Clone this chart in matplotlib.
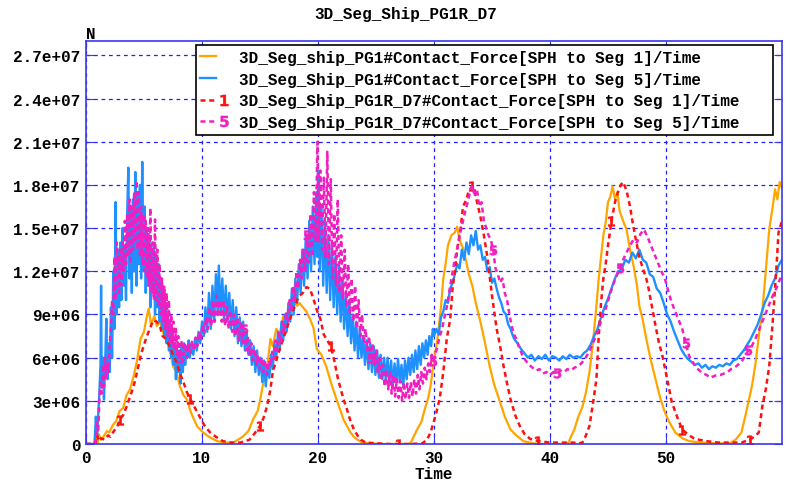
import numpy as np
import matplotlib
matplotlib.use('Agg')
import matplotlib.pyplot as plt
from matplotlib.lines import Line2D
from matplotlib.legend_handler import HandlerTuple
from matplotlib.ticker import FuncFormatter

plt.rcParams['font.family'] = ['Liberation Mono', 'DejaVu Sans Mono']
plt.rcParams['font.weight'] = 'bold'
plt.rcParams['font.size'] = 11.5

# values in units of 1e6 N
SCALE = 1e6

orange_t = [0, 0.8, 0.9, 1.0, 1.1, 1.3, 1.5, 1.8, 2.0, 2.3,
            2.6, 2.9, 3.2, 3.5, 3.8, 4.1, 4.4, 4.7, 5.0, 5.2,
            5.4, 5.6, 5.9, 6.1, 6.4, 6.7, 7.0, 7.3, 7.5, 7.8,
            8.1, 8.4, 8.7, 9.0, 9.2, 9.6, 10.1, 10.6, 11.3, 12.0,
            12.7, 13.1, 13.5, 14.0, 14.4, 14.8, 15.0, 15.3, 15.6, 15.9,
            16.1, 16.4, 16.7, 17.0, 17.3, 17.6, 17.9, 18.2, 18.4, 18.8,
            19.0, 19.3, 19.6, 19.9, 20.3, 20.7, 21.0, 21.3, 21.6, 21.9,
            22.2, 22.5, 22.8, 23.1, 23.4, 23.8, 24.5, 25.5, 27.0, 27.8,
            28.0, 28.3, 28.6, 28.9, 29.2, 29.5, 29.7, 30.0, 30.3, 30.6,
            30.8, 31.0, 31.2, 31.5, 31.8, 32.0, 32.2, 32.5, 32.8, 33.0,
            33.3, 33.6, 34.0, 34.4, 34.8, 35.2, 35.7, 36.1, 36.6, 37.1,
            37.7, 38.5, 39.5, 41.0, 41.6, 41.8, 42.1, 42.4, 42.8, 43.1,
            43.4, 43.7, 44.0, 44.2, 44.4, 44.6, 44.8, 45.0, 45.2, 45.4,
            45.6, 45.8, 46.0, 46.3, 46.6, 46.9, 47.2, 47.5, 47.7, 48.0,
            48.3, 48.7, 49.1, 49.5, 49.9, 50.3, 50.8, 51.4, 52.0, 53.0,
            54.0, 55.5, 56.0, 56.3, 56.5, 56.8, 57.1, 57.4, 57.7, 58.0,
            58.3, 58.6, 58.9, 59.2, 59.4, 59.6, 59.8, 60.0]
orange_v = [0, 0, 0.6, 0.1, 0.7, 0.3, 0.5, 0.9, 0.8, 1.3,
            1.6, 2.3, 2.5, 3.4, 3.8, 4.7, 5.8, 7.3, 7.8, 8.7,
            9.4, 8.3, 8.9, 8.2, 8.5, 7.6, 7.3, 6.2, 5.4, 5.0,
            4.0, 3.4, 3.1, 2.3, 1.9, 1.2, 0.8, 0.5, 0.2, 0.1,
            0.1, 0.3, 0.5, 0.9, 1.7, 2.3, 3.0, 4.3, 5.2, 7.3,
            6.8, 8.0, 7.6, 8.9, 8.6, 9.4, 9.8, 9.6, 9.8, 9.4,
            9.2, 8.7, 8.1, 6.6, 6.2, 5.4, 4.6, 3.8, 3.1, 2.4,
            1.7, 1.25, 0.8, 0.5, 0.3, 0.1, 0.05, 0, 0, 0,
            0.1, 0.6, 1.1, 1.5, 2.4, 3.2, 4.0, 5.8, 7.3, 9.5,
            11.5, 12.5, 13.8, 14.5, 14.7, 15.1, 14.2, 13.6, 12.6, 11.8,
            11.0, 9.8, 8.5, 7.0, 5.4, 4.1, 2.9, 1.9, 1.0, 0.6,
            0.2, 0.05, 0, 0, 0.1, 0.5, 1.0, 1.8, 2.6, 3.6,
            5.0, 7.0, 9.6, 11.5, 13.0, 14.5, 15.4, 16.8, 17.2, 17.9,
            17.0, 17.5, 16.2, 15.5, 14.9, 13.5, 12.4, 11.0, 9.6, 8.6,
            7.3, 5.8, 4.5, 3.2, 2.2, 1.5, 0.8, 0.4, 0.2, 0.1,
            0.05, 0.05, 0.3, 0.6, 0.8, 1.8, 2.9, 4.0, 5.5, 7.5,
            9.2, 12.0, 14.9, 16.5, 17.7, 17.0, 18.2, 17.8]

blue_t = [0, 0.7, 0.75, 0.85, 0.95, 1.05, 1.15, 1.25, 1.3, 1.35,
          1.45, 1.55, 1.65, 1.75, 1.85, 1.95, 2.05, 2.15, 2.25, 2.35,
          2.45, 2.55, 2.65, 2.75, 2.85, 2.95, 3.05, 3.15, 3.25, 3.35,
          3.45, 3.55, 3.65, 3.75, 3.85, 3.95, 4.05, 4.15, 4.25, 4.35,
          4.45, 4.55, 4.65, 4.75, 4.85, 4.95, 5.05, 5.15, 5.25, 5.35,
          5.45, 5.55, 5.65, 5.75, 5.85, 5.95, 6.05, 6.15, 6.25, 6.35,
          6.45, 6.55, 6.65, 6.75, 6.85, 6.95, 7.05, 7.15, 7.25, 7.35,
          7.45, 7.55, 7.65, 7.75, 7.85, 7.95, 8.05, 8.15, 8.25, 8.35,
          8.45, 8.55, 8.65, 8.75, 8.85, 8.95, 9.1, 9.25, 9.4, 9.55,
          9.7, 9.85, 10.0, 10.15, 10.3, 10.45, 10.6, 10.75, 10.9, 11.05,
          11.2, 11.35, 11.45, 11.6, 11.75, 11.9, 12.05, 12.2, 12.35, 12.5,
          12.65, 12.8, 12.95, 13.1, 13.25, 13.4, 13.55, 13.7, 13.85, 14.0,
          14.15, 14.3, 14.45, 14.6, 14.75, 14.9, 15.05, 15.2, 15.35, 15.5,
          15.65, 15.8, 15.95, 16.1, 16.25, 16.4, 16.55, 16.7, 16.85, 17.0,
          17.15, 17.3, 17.45, 17.6, 17.75, 17.9, 18.05, 18.2, 18.35, 18.5,
          18.65, 18.8, 18.95, 19.1, 19.25, 19.4, 19.55, 19.7, 19.85, 19.95,
          20.05, 20.15, 20.3, 20.45, 20.6, 20.75, 20.9, 21.05, 21.2, 21.35,
          21.5, 21.65, 21.8, 21.95, 22.1, 22.25, 22.4, 22.55, 22.7, 22.85,
          23.0, 23.15, 23.3, 23.45, 23.6, 23.75, 23.9, 24.05, 24.2, 24.35,
          24.5, 24.65, 24.8, 24.95, 25.1, 25.25, 25.4, 25.55, 25.7, 25.85,
          26.0, 26.15, 26.3, 26.45, 26.6, 26.75, 26.9, 27.05, 27.2, 27.35,
          27.5, 27.65, 27.8, 27.95, 28.1, 28.25, 28.4, 28.55, 28.7, 28.85,
          29.0, 29.15, 29.3, 29.45, 29.6, 29.75, 29.9, 30.0, 30.2, 30.4,
          30.6, 30.8, 31.0, 31.2, 31.4, 31.6, 31.8, 32.0, 32.2, 32.4,
          32.6, 32.8, 33.0, 33.2, 33.4, 33.6, 33.8, 34.0, 34.2, 34.4,
          34.6, 34.8, 35.0, 35.2, 35.4, 35.6, 35.8, 36.0, 36.2, 36.4,
          36.6, 36.8, 37.0, 37.2, 37.5, 37.8, 38.1, 38.4, 38.7, 39.0,
          39.3, 39.6, 39.9, 40.2, 40.5, 40.8, 41.1, 41.4, 41.7, 42.0,
          42.3, 42.6, 42.9, 43.2, 43.5, 43.8, 44.1, 44.4, 44.7, 45.0,
          45.3, 45.6, 45.9, 46.2, 46.5, 46.8, 47.1, 47.4, 47.7, 48.0,
          48.3, 48.6, 48.9, 49.2, 49.5, 49.8, 50.1, 50.4, 50.7, 51.0,
          51.3, 51.6, 51.9, 52.2, 52.5, 52.8, 53.1, 53.4, 53.7, 54.0,
          54.3, 54.6, 54.9, 55.2, 55.5, 55.8, 56.1, 56.4, 56.7, 57.0,
          57.3, 57.6, 57.9, 58.2, 58.5, 58.8, 59.1, 59.4, 59.7, 60.0]
blue_v = [0, 0, 0.3, 1.9, 0.5, 2.0, 3.5, 5.5, 11.0, 4.0,
          6.0, 3.1, 5.5, 8.7, 4.5, 7.0, 5.0, 9.5, 6.0, 12.0,
          8.0, 16.8, 9.0, 13.5, 9.5, 14.0, 10.0, 15.0, 11.0, 13.5,
          10.0, 16.0, 19.2, 11.5, 16.5, 10.5, 17.0, 12.0, 18.9, 11.0,
          17.5, 12.5, 18.0, 11.5, 19.6, 12.0, 16.5, 10.5, 15.0, 11.0,
          14.5, 9.5, 13.5, 10.5, 14.0, 9.0, 13.0, 9.5, 12.5, 8.5,
          11.5, 8.0, 10.5, 7.5, 9.5, 7.0, 9.0, 6.5, 8.5, 6.0,
          8.0, 5.5, 7.0, 4.5, 6.5, 5.0, 6.5, 4.2, 6.8, 5.0,
          7.0, 5.5, 6.8, 6.0, 7.2, 6.0, 7.0, 6.2, 7.3, 6.5,
          7.8, 7.0, 8.5, 7.5, 9.5, 7.8, 10.5, 8.0, 11.0, 8.5,
          11.8, 9.0, 12.4, 9.0, 11.5, 8.5, 11.0, 8.5, 10.5, 8.0,
          10.0, 7.5, 9.5, 7.0, 8.8, 6.8, 8.5, 6.5, 7.8, 6.2,
          7.2, 5.5, 6.8, 5.0, 6.5, 4.8, 6.0, 4.3, 5.8, 4.0,
          5.5, 4.6, 6.2, 5.2, 7.0, 6.0, 7.8, 6.5, 8.5, 7.2,
          9.0, 7.8, 9.8, 8.5, 10.8, 9.0, 11.5, 9.8, 12.5, 10.5,
          13.5, 11.0, 14.5, 11.5, 15.5, 12.0, 16.5, 12.5, 17.5, 13.0,
          19.0, 12.0, 16.5, 11.0, 15.5, 10.5, 14.5, 10.0, 14.0, 9.5,
          13.0, 9.0, 12.5, 8.5, 11.5, 8.0, 10.5, 7.5, 10.0, 7.0,
          9.0, 6.5, 8.5, 6.0, 8.0, 6.0, 7.5, 5.5, 7.2, 5.2,
          7.0, 5.0, 6.8, 4.8, 6.5, 4.6, 6.2, 4.5, 6.0, 4.3,
          6.0, 4.2, 5.8, 4.0, 5.6, 4.2, 5.9, 4.3, 5.5, 4.0,
          5.8, 4.5, 6.0, 4.8, 6.2, 5.0, 6.5, 5.2, 6.8, 5.5,
          7.0, 6.0, 7.2, 6.2, 7.5, 6.8, 8.0, 7.5, 8.0, 7.6,
          8.8, 9.2, 10.0, 9.8, 10.8, 11.2, 11.8, 12.5, 12.2, 13.5,
          12.8, 14.0, 13.2, 14.5, 13.8, 14.8, 13.5, 13.8, 12.8, 13.0,
          12.0, 12.3, 11.2, 11.5, 10.8, 10.2, 9.8, 9.2, 9.0, 8.3,
          8.0, 7.5, 7.2, 7.0, 6.6, 6.3, 6.0, 6.2, 5.8, 6.1,
          5.9, 6.2, 5.8, 6.1, 6.0, 5.8, 6.1, 5.9, 6.2, 6.0,
          6.1, 6.0, 6.3, 6.5, 6.9, 7.5, 8.0, 8.8, 9.5, 10.1,
          10.8, 11.5, 12.0, 12.2, 12.8, 12.6, 13.3, 12.9, 13.5, 12.8,
          12.6, 11.8, 11.6, 10.8, 10.5, 9.8, 9.0, 8.5, 7.8, 7.2,
          6.6, 6.2, 5.9, 5.7, 5.5, 5.6, 5.3, 5.5, 5.2, 5.4,
          5.3, 5.5, 5.4, 5.6, 5.5, 5.8, 5.9, 6.2, 6.5, 6.9,
          7.3, 7.8, 8.3, 9.0, 9.8, 10.3, 11.0, 11.5, 12.4, 12.8]

red_t = [0, 0.8, 0.95, 1.1, 1.3, 1.6, 1.9, 2.1, 2.4, 2.7,
         2.9, 3.2, 3.5, 3.8, 4.1, 4.4, 4.7, 5.0, 5.3, 5.5,
         5.8, 6.1, 6.4, 6.6, 6.9, 7.2, 7.5, 7.8, 8.1, 8.4,
         8.7, 9.0, 9.4, 9.8, 10.2, 10.7, 11.2, 11.8, 12.5, 13.3,
         13.7, 14.1, 14.5, 15.0, 15.3, 15.6, 15.9, 16.1, 16.4, 16.7,
         17.0, 17.3, 17.6, 17.9, 18.2, 18.4, 18.7, 19.0, 19.3, 19.6,
         19.9, 20.2, 20.5, 20.8, 21.1, 21.4, 21.7, 21.9, 22.2, 22.5,
         22.8, 23.1, 23.4, 23.7, 24.1, 25.0, 26.0, 27.0, 28.0, 29.0,
         29.4, 29.7, 30.0, 30.3, 30.5, 30.8, 31.1, 31.4, 31.6, 31.8,
         32.0, 32.3, 32.5, 32.8, 33.0, 33.3, 33.6, 34.0, 34.3, 34.6,
         35.0, 35.4, 35.7, 36.0, 36.3, 36.6, 37.0, 37.4, 37.8, 38.3,
         39.0, 40.0, 41.0, 42.0, 42.5, 42.8, 43.1, 43.4, 43.7, 44.0,
         44.2, 44.4, 44.6, 44.8, 45.0, 45.3, 45.6, 45.9, 46.1, 46.3,
         46.6, 46.9, 47.1, 47.4, 47.7, 48.0, 48.3, 48.5, 48.8, 49.1,
         49.4, 49.7, 50.1, 50.5, 51.0, 51.4, 52.0, 52.5, 53.5, 54.5,
         55.5, 56.5, 57.2, 57.6, 58.0, 58.3, 58.6, 58.9, 59.2, 59.5,
         59.7, 60.0]
red_v = [0, 0, 0.6, 0.2, 0.4, 0.3, 0.6, 0.5, 0.9, 1.2,
         1.7, 2.0, 2.6, 3.3, 4.0, 5.0, 6.1, 6.9, 7.6, 8.0,
         8.6, 8.5, 8.1, 7.5, 7.3, 6.8, 6.2, 5.7, 4.9, 4.3,
         3.6, 3.1, 2.5, 1.9, 1.3, 0.8, 0.5, 0.2, 0.1, 0.1,
         0.2, 0.3, 0.7, 1.25, 1.8, 2.6, 3.8, 5.0, 5.8, 6.6,
         7.3, 8.0, 8.7, 9.4, 10.0, 10.3, 10.5, 10.9, 10.8, 10.1,
         9.3, 8.7, 7.6, 7.2, 6.8, 5.8, 4.6, 4.0, 3.1, 2.4,
         1.6, 1.0, 0.6, 0.3, 0.1, 0.05, 0, 0, 0, 0.05,
         0.3, 0.8, 1.6, 2.5, 3.2, 5.0, 7.3, 8.7, 10.8, 12.0,
         13.5, 15.0, 16.5, 17.0, 17.6, 17.9, 17.2, 15.8, 14.5, 13.0,
         10.3, 8.0, 6.8, 5.4, 4.2, 3.1, 2.0, 1.25, 0.7, 0.35,
         0.2, 0.1, 0.1, 0.1, 0.05, 0.1, 0.6, 1.25, 2.8, 4.5,
         7.5, 9.8, 11.5, 12.5, 13.8, 15.5, 16.8, 17.6, 18.0, 18.2,
         17.6, 16.5, 15.5, 14.2, 13.0, 12.2, 11.5, 10.8, 9.5, 8.2,
         7.0, 6.1, 4.5, 2.9, 1.8, 1.0, 0.6, 0.35, 0.2, 0.1,
         0.1, 0.1, 0.3, 0.5, 0.8, 2.6, 3.8, 5.4, 8.5, 12.0,
         14.7, 15.5]

magenta_t = [0, 0.8, 0.85, 0.95, 1.05, 1.15, 1.25, 1.35, 1.45, 1.55,
             1.65, 1.75, 1.85, 1.95, 2.05, 2.15, 2.25, 2.35, 2.45, 2.55,
             2.65, 2.75, 2.85, 2.95, 3.05, 3.15, 3.25, 3.35, 3.45, 3.55,
             3.65, 3.75, 3.85, 3.95, 4.05, 4.15, 4.25, 4.35, 4.45, 4.55,
             4.65, 4.75, 4.85, 4.95, 5.05, 5.15, 5.25, 5.35, 5.45, 5.55,
             5.65, 5.75, 5.85, 5.95, 6.05, 6.15, 6.25, 6.35, 6.45, 6.55,
             6.65, 6.75, 6.85, 6.95, 7.05, 7.15, 7.25, 7.35, 7.45, 7.55,
             7.65, 7.75, 7.85, 7.95, 8.1, 8.25, 8.4, 8.55, 8.7, 8.85,
             9.0, 9.15, 9.3, 9.45, 9.6, 9.75, 9.9, 10.05, 10.2, 10.35,
             10.5, 10.65, 10.8, 10.95, 11.1, 11.25, 11.4, 11.55, 11.7, 11.85,
             12.0, 12.15, 12.3, 12.45, 12.6, 12.75, 12.9, 13.05, 13.2, 13.35,
             13.5, 13.65, 13.8, 13.95, 14.1, 14.25, 14.4, 14.55, 14.7, 14.85,
             15.0, 15.15, 15.3, 15.45, 15.6, 15.75, 15.9, 16.05, 16.2, 16.35,
             16.5, 16.65, 16.8, 16.95, 17.1, 17.25, 17.4, 17.55, 17.7, 17.85,
             18.0, 18.15, 18.3, 18.45, 18.6, 18.75, 18.9, 19.05, 19.2, 19.35,
             19.5, 19.65, 19.8, 19.95, 20.05, 20.2, 20.35, 20.5, 20.65, 20.8,
             20.95, 21.1, 21.25, 21.4, 21.55, 21.7, 21.85, 22.0, 22.15, 22.3,
             22.45, 22.6, 22.75, 22.9, 23.05, 23.2, 23.35, 23.5, 23.65, 23.8,
             23.95, 24.1, 24.25, 24.4, 24.55, 24.7, 24.85, 25.0, 25.15, 25.3,
             25.45, 25.6, 25.75, 25.9, 26.05, 26.2, 26.35, 26.5, 26.65, 26.8,
             26.95, 27.1, 27.25, 27.4, 27.55, 27.7, 27.85, 28.0, 28.15, 28.3,
             28.45, 28.6, 28.75, 28.9, 29.05, 29.2, 29.35, 29.5, 29.65, 29.8,
             29.95, 30.1, 30.3, 30.5, 30.7, 30.9, 31.1, 31.3, 31.5, 31.7,
             31.9, 32.1, 32.3, 32.5, 32.7, 32.9, 33.1, 33.3, 33.5, 33.7,
             33.9, 34.1, 34.3, 34.5, 34.7, 34.9, 35.1, 35.3, 35.5, 35.7,
             35.9, 36.1, 36.3, 36.5, 36.7, 36.9, 37.1, 37.3, 37.6, 37.9,
             38.2, 38.5, 38.8, 39.1, 39.4, 39.7, 40.0, 40.3, 40.6, 40.9,
             41.2, 41.5, 41.8, 42.1, 42.4, 42.7, 43.0, 43.3, 43.6, 43.9,
             44.2, 44.5, 44.8, 45.1, 45.4, 45.7, 46.0, 46.3, 46.6, 46.9,
             47.2, 47.5, 47.8, 48.1, 48.4, 48.7, 49.0, 49.3, 49.6, 49.9,
             50.2, 50.5, 50.8, 51.1, 51.4, 51.7, 52.0, 52.3, 52.6, 52.9,
             53.2, 53.5, 53.8, 54.1, 54.4, 54.7, 55.0, 55.3, 55.6, 55.9,
             56.2, 56.5, 56.8, 57.1, 57.4, 57.7, 58.0, 58.3, 58.6, 58.9,
             59.2, 59.5, 59.8, 60.0]
magenta_v = [0, 0, 0.5, 1.5, 0.8, 3.0, 4.5, 3.5, 5.5, 4.0,
             6.0, 4.5, 5.5, 5.0, 7.0, 8.0, 10.0, 9.0, 13.0, 10.0,
             14.0, 12.5, 10.5, 13.5, 11.0, 14.0, 12.0, 15.5, 12.5, 16.0,
             13.0, 17.0, 12.5, 16.5, 13.5, 17.5, 14.0, 18.3, 13.5, 17.5,
             13.0, 16.5, 12.5, 16.0, 12.0, 15.5, 11.5, 15.0, 11.0, 16.4,
             10.5, 14.0, 10.0, 15.6, 10.0, 13.5, 9.5, 12.5, 9.0, 11.5,
             8.5, 11.0, 8.0, 10.5, 7.5, 10.0, 7.0, 9.0, 6.8, 8.5,
             6.5, 8.0, 6.2, 7.5, 6.0, 7.2, 6.2, 7.0, 6.0, 7.0,
             6.3, 7.2, 6.5, 7.4, 6.8, 7.8, 7.2, 8.3, 7.6, 8.8,
             8.0, 9.5, 8.2, 10.0, 8.5, 10.3, 8.8, 10.0, 8.5, 10.0,
             8.2, 9.6, 8.0, 9.3, 7.8, 9.0, 7.5, 8.8, 7.2, 8.5,
             7.0, 8.0, 6.5, 7.5, 6.2, 7.0, 5.8, 6.6, 5.5, 6.2,
             5.2, 6.0, 5.0, 5.8, 4.8, 5.8, 5.4, 6.4, 5.9, 7.2,
             6.5, 7.8, 7.0, 8.5, 7.8, 9.2, 8.5, 10.0, 9.2, 11.0,
             10.0, 12.0, 10.8, 12.8, 11.5, 13.5, 12.0, 14.5, 12.6, 16.0,
             13.0, 17.5, 14.0, 21.0, 14.0, 19.0, 13.5, 18.5, 13.0, 20.3,
             12.5, 18.4, 11.5, 16.0, 11.0, 17.0, 10.5, 14.5, 10.0, 13.5,
             9.5, 12.5, 9.0, 11.5, 8.5, 11.0, 8.0, 10.0, 7.5, 9.0,
             7.0, 8.0, 6.5, 7.5, 6.0, 7.0, 5.5, 6.5, 5.0, 6.0,
             4.5, 5.5, 4.0, 5.2, 3.8, 5.0, 3.5, 4.8, 3.3, 4.5,
             3.2, 4.4, 3.0, 4.3, 3.1, 4.2, 3.2, 4.3, 3.3, 4.5,
             3.5, 4.8, 3.8, 5.0, 4.2, 5.3, 4.5, 5.6, 5.0, 6.2,
             5.8, 6.2, 6.8, 7.5, 8.0, 8.8, 9.5, 10.5, 11.5, 12.4,
             13.2, 14.0, 14.8, 15.5, 16.2, 16.8, 17.5, 18.0, 17.2, 17.7,
             16.5, 16.8, 15.5, 15.0, 14.5, 14.2, 13.5, 12.2, 11.8, 11.2,
             11.5, 10.5, 10.0, 9.0, 8.2, 7.6, 7.3, 6.8, 6.2, 5.8,
             5.5, 5.3, 5.1, 5.2, 4.9, 5.0, 4.8, 5.0, 4.9, 5.1,
             5.0, 5.2, 5.1, 5.3, 5.4, 5.6, 5.9, 6.3, 6.8, 7.4,
             8.0, 8.8, 9.4, 10.2, 11.0, 11.6, 12.2, 12.8, 13.3, 13.8,
             14.2, 14.0, 14.6, 14.9, 14.4, 13.8, 13.2, 12.6, 12.0, 11.5,
             10.6, 9.8, 9.2, 8.6, 8.0, 7.0, 6.1, 5.7, 5.3, 5.1,
             4.9, 4.8, 4.6, 4.7, 4.8, 4.8, 4.9, 5.0, 5.2, 5.3,
             5.5, 5.7, 6.1, 6.5, 6.8, 7.3, 7.9, 8.5, 9.1, 9.7,
             10.3, 10.8, 11.4, 11.8]

# times where the curve id labels sit on the dashed curves
red_mark_t = [3.0, 9.1, 15.1, 21.1, 27.2, 33.2, 39.3, 45.3, 51.4, 57.4]
magenta_mark_t = [2.7, 8.15, 13.6, 19.05, 24.5, 30.0, 35.1, 40.6, 46.1, 51.6, 57.0]

labels = ['3D_Seg_ship_PG1#Contact_Force[SPH to Seg 1]/Time   ',
          '3D_Seg_Ship_PG1#Contact_Force[SPH to Seg 5]/Time   ',
          '3D_Seg_Ship_PG1R_D7#Contact_Force[SPH to Seg 1]/Time   ',
          '3D_Seg_Ship_PG1R_D7#Contact_Force[SPH to Seg 5]/Time   ']

c_orange = '#FFA500'
c_blue = '#1E90FF'
c_red = '#FF1010'
c_mag = '#F020C0'
c_axis = '#3838F0'


def nearest(t, marks):
    t = np.asarray(t)
    return [int(np.argmin(np.abs(t - m))) for m in marks]


fig = plt.figure(figsize=(7.9, 4.81), dpi=100)
ax = fig.add_axes([86 / 790, 1 - 445 / 481, 696 / 790, 403 / 481])

ax.plot(orange_t, np.array(orange_v) * SCALE, color=c_orange, lw=1.6)
ax.plot(blue_t, np.array(blue_v) * SCALE, color=c_blue, lw=1.7)
ax.plot(red_t, np.array(red_v) * SCALE, color=c_red, lw=1.8,
        ls=(0, (2, 1.5)), marker='$1$', markersize=7, mew=0.3,
        markevery=nearest(red_t, red_mark_t))
ax.plot(magenta_t, np.array(magenta_v) * SCALE, color=c_mag, lw=1.8,
        ls=(0, (2, 1.5)), marker='$5$', markersize=7, mew=0.3,
        markevery=nearest(magenta_t, magenta_mark_t))

ax.set_xlim(0, 60)
ax.set_ylim(0, 2.8e7)
ax.set_xticks([0, 10, 20, 30, 40, 50])
ax.set_yticks(np.arange(0, 2.8e7, 3e6))
ax.yaxis.set_major_formatter(FuncFormatter(lambda v, p: '%g' % v))
ax.grid(True, color='#2020FF', ls=(0, (3, 3)), lw=0.9)
ax.tick_params(direction='in', length=6, top=True, right=True,
               color=c_axis, labelsize=11.5, pad=4)
for s in ax.spines.values():
    s.set_color(c_axis)
    s.set_linewidth(1.2)

ax.set_xlabel('Time', fontsize=11.5, fontweight='bold', labelpad=1)
ax.text(0, 1.0, 'N', transform=ax.transAxes, ha='left', va='bottom',
        fontsize=11.5, fontweight='bold')
fig.text(406 / 790, 1 - 14 / 481, '3D_Seg_Ship_PG1R_D7', ha='center',
         va='center', fontsize=11.5, fontweight='bold')

blank = Line2D([], [], ls='none')
h_orange = (Line2D([], [], color=c_orange, lw=1.6), blank)
h_blue = (Line2D([], [], color=c_blue, lw=1.7), blank)
h_red = (Line2D([], [], color=c_red, lw=1.8, ls=(0, (2, 1.5))),
         Line2D([], [], ls='none', color=c_red, marker='$1$', markersize=8, mew=0.3))
h_mag = (Line2D([], [], color=c_mag, lw=1.8, ls=(0, (2, 1.5))),
         Line2D([], [], ls='none', color=c_mag, marker='$5$', markersize=8, mew=0.3))
leg = ax.legend([h_orange, h_blue, h_red, h_mag], labels,
                handler_map={tuple: HandlerTuple(ndivide=None, pad=0)},
                loc='upper right', bbox_to_anchor=(0.987, 0.99),
                borderaxespad=0, fancybox=False, framealpha=1,
                edgecolor='black', handlelength=2.0, handletextpad=0.4,
                borderpad=0.3, labelspacing=0.42, fontsize=11.5)
leg.get_frame().set_linewidth(1.2)

fig.savefig('out.png', dpi=100)
